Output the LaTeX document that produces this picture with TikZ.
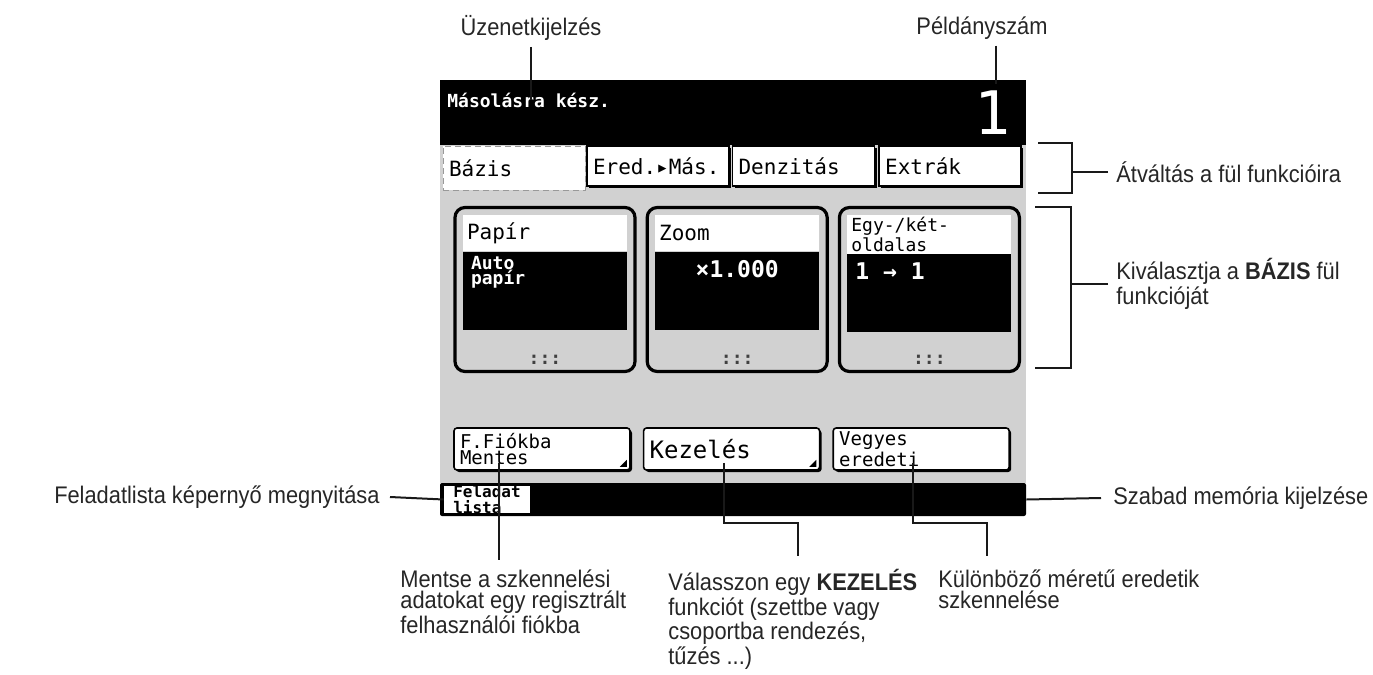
\documentclass[tikz,border=0pt]{standalone}
\usepackage{fontspec}
\newfontfamily\lblfont{Liberation Sans}[FakeStretch=0.91]
\newfontfamily\lcdfont{DejaVu Sans Mono}
\usetikzlibrary{positioning,calc}

\definecolor{lcdgray}{gray}{0.82}

\begin{document}
\begin{tikzpicture}[
    x=0.5pt, y=-0.5pt,
    note/.style={font=\lblfont\fontsize{12}{10.7}\selectfont, align=left, inner sep=0pt, text=black!85},
    lead/.style={draw=black!90, line width=1pt},
    lcd/.style={font=\lcdfont, inner sep=0pt},
    bar/.style={fill=black, minimum width=293pt, inner sep=0pt},
    tabbox/.style={draw, fill=white, line width=0.8pt, text width=65pt, inner xsep=3pt, align=left, minimum height=20pt, font=\lcdfont\fontsize{10.5}{11}\selectfont,
        preaction={fill=black, transform canvas={xshift=1pt, yshift=-1pt}}},
    panel/.style={draw, fill=lcdgray, line width=1.6pt, rounded corners=5pt, minimum width=90pt, minimum height=82pt, inner sep=0pt},
    ptitle/.style={fill=white, minimum width=82pt, minimum height=18pt, text width=78pt, align=left, inner xsep=2pt, inner ysep=1pt, font=\lcdfont\fontsize{10.5}{10}\selectfont},
    pvalue/.style={fill=black, minimum width=82pt, minimum height=39pt, inner sep=0pt},
    pdots/.style={lcd, font=\lcdfont\bfseries\fontsize{9}{9}\selectfont, text=black!75},
    btn/.style={draw, fill=white, line width=0.8pt, rounded corners=1.5pt, minimum width=88pt, minimum height=21pt, text width=82pt, align=left, inner xsep=3pt, inner ysep=1pt,
        preaction={fill=black, rounded corners=1.5pt, transform canvas={xshift=1pt, yshift=-1pt}}}
]
\useasboundingbox (0,0) rectangle (1373,675);

% LCD screen
\node[bar, minimum height=32.5pt] (msgbar) at (733,112.5) {};
\node[fill=lcdgray, minimum width=293pt, minimum height=169pt, inner sep=0pt] (body) at (733,314) {};
\node[bar, minimum height=16.5pt, rounded corners=1pt] (membar) at (733,499.5) {};
\node[lcd, text=white, anchor=west, font=\lcdfont\bfseries\fontsize{9}{9}\selectfont] (msg) at (447,100) {Másolásra kész.};
\node[lcd, text=white, font=\lcdfont\fontsize{30}{30}\selectfont] (copies) at (993,113) {1};

% Tabs
\node[draw=black!40, densely dashed, fill=white, minimum width=71pt, minimum height=22pt, text width=65pt, inner xsep=3pt, align=left, font=\lcdfont\fontsize{10.5}{11}\selectfont] (bazis) at (514,168) {Bázis};
\node[tabbox] (ered) at (658,166) {Ered.▸Más.};
\node[tabbox, right=1pt of ered] (denz) {Denzitás};
\node[tabbox, right=1.5pt of denz] (extra) {Extrák};

% Panels
\node[panel] (pap) at (545,289.5) {};
\node[panel, right=4.5pt of pap] (zoom) {};
\node[panel, right=4.5pt of zoom] (duplex) {};

\node[ptitle, below=4.5pt of pap.north] (paptitle) {Papír};
\node[pvalue, below=0pt of paptitle] (papval) {};
\node[lcd, text=white, anchor=north west, align=left, font=\lcdfont\bfseries\fontsize{9}{7.5}\selectfont] (paptext) at ([shift={(4pt,-2pt)}]papval.north west) {Auto\\papír};
\node[pdots, above=4pt of pap.south] (papdots) {:::};

\node[ptitle, below=4.5pt of zoom.north] (zoomtitle) {Zoom};
\node[pvalue, below=0pt of zoomtitle] (zoomval) {};
\node[lcd, text=white, anchor=north, font=\lcdfont\bfseries\fontsize{11.5}{11}\selectfont] (zoomtext) at ([yshift=-4pt]zoomval.north) {×1.000};
\node[pdots, above=4pt of zoom.south] (zoomdots) {:::};

\node[ptitle, below=4.5pt of duplex.north, font=\lcdfont\fontsize{9}{6.5}\selectfont] (duplextitle) {Egy-/két-\\oldalas};
\node[pvalue, below=0pt of duplextitle] (duplexval) {};
\node[lcd, text=white, anchor=north west, font=\lcdfont\bfseries\fontsize{11.5}{11}\selectfont] (duplextext) at ([shift={(4pt,-4pt)}]duplexval.north west) {1 → 1};
\node[pdots, above=4pt of duplex.south] (duplexdots) {:::};

% Buttons
\node[btn, font=\lcdfont\fontsize{9.5}{8}\selectfont] (fiok) at (542,449) {F.Fiókba\\Mentes};
\node[btn, right=6pt of fiok, font=\lcdfont\fontsize{12}{12}\selectfont] (kez) {Kezelés};
\node[btn, right=6pt of kez, font=\lcdfont\fontsize{9.5}{8}\selectfont] (vegyes) {Vegyes\\eredeti};
\fill ([shift={(-2pt,2pt)}]fiok.south east) -- ++(-3.5pt,0) -- ++(3.5pt,3.5pt) -- cycle;
\fill ([shift={(-2pt,2pt)}]kez.south east) -- ++(-3.5pt,0) -- ++(3.5pt,3.5pt) -- cycle;

% Job list tab
\node[fill=white, minimum width=43pt, minimum height=13.5pt, inner sep=0pt, align=left, font=\lcdfont\bfseries\fontsize{8}{6}\selectfont] (jobtab) at (487,499.5) {Feladat\\ lista};

% Callouts
\node[note] (msglbl) at (531,28) {Üzenetkijelzés};
\node[note] (cntlbl) at (982,28) {Példányszám};
\coordinate (msgpt) at (531,100);
\coordinate (cntpt) at (996,84);
\draw[lead] ([yshift=-3pt]msglbl.south) -- (msgpt);
\draw[lead] ([yshift=-3pt]cntlbl.south -| cntpt) -- (cntpt);

\node[note, anchor=west] (tablbl) at (1116,172) {Átváltás a fül funkcióira};
\node[note, anchor=west] (basislbl) at (1116,284) {Kiválasztja a \textbf{BÁZIS} fül\\funkcióját};
\coordinate (tabtop) at (1038,143);
\coordinate (tabbot) at (1038,193);
\coordinate (pantop) at (1035,207);
\coordinate (panbot) at (1035,368);
\draw[lead] (tabtop) -- ++(17pt,0) |- (tabbot);
\draw[lead] (pantop) -- ++(18pt,0) |- (panbot);
\draw[lead] ([xshift=-4pt]tablbl.west) -- ++(-18pt,0);
\draw[lead] ([xshift=-4pt]basislbl.west) -- ++(-18.5pt,0);

\node[note, anchor=east] (joblbl) at (380,497) {Feladatlista képernyő megnyitása};
\draw[lead] ([xshift=5pt]joblbl.east) -- (jobtab.west);
\node[note, anchor=west] (memlbl) at (1113,498) {Szabad memória kijelzése};
\draw[lead] (membar.east) -- ([xshift=-6pt]memlbl.west);

\node[note, anchor=north west] (savelbl) at (400,569) {Mentse a szkennelési\\adatokat egy regisztrált\\felhasználói fiókba};
\node[note, anchor=north west] (kezlbl) at (668,569) {Válasszon egy \textbf{KEZELÉS}\\funkciót (szettbe vagy\\csoportba rendezés,\\tűzés ...)};
\node[note, anchor=north west] (mixlbl) at (938,569) {Különböző méretű eredetik\\szkennelése};
\coordinate (saveend) at (499,560);
\coordinate (kezend) at (798,556);
\coordinate (mixend) at (987,556);
\draw[lead] ([xshift=-21.5pt,yshift=4pt]fiok.south) -- (saveend);
\draw[lead] ([xshift=-4pt,yshift=4pt]kez.south) |- ([yshift=16.5pt]kezend) -- (kezend);
\draw[lead] ([xshift=-4pt,yshift=4pt]vegyes.south) |- ([yshift=16.5pt]mixend) -- (mixend);

\end{tikzpicture}
\end{document}
